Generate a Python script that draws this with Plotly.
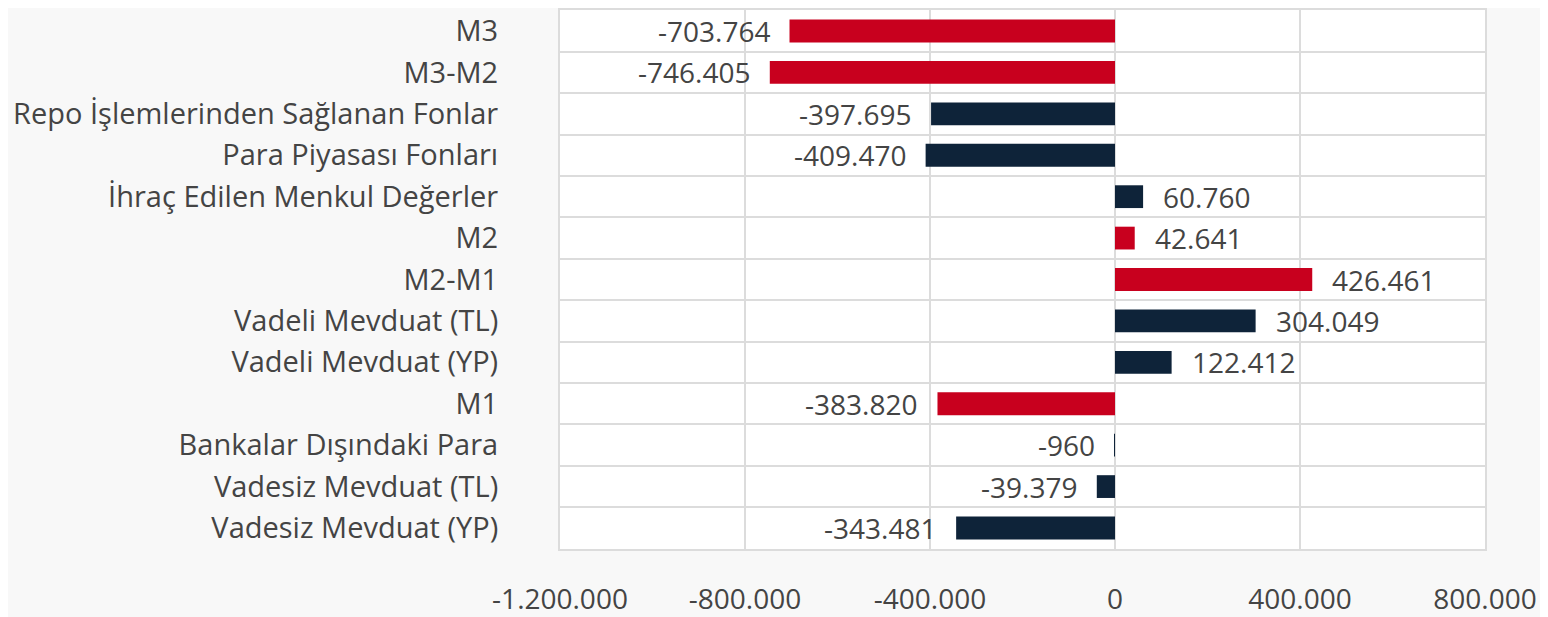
import plotly.graph_objects as go

categories = [
    "M3",
    "M3-M2",
    "Repo İşlemlerinden Sağlanan Fonlar",
    "Para Piyasası Fonları",
    "İhraç Edilen Menkul Değerler",
    "M2",
    "M2-M1",
    "Vadeli Mevduat (TL)",
    "Vadeli Mevduat (YP)",
    "M1",
    "Bankalar Dışındaki Para",
    "Vadesiz Mevduat (TL)",
    "Vadesiz Mevduat (YP)",
]
values = [-703764, -746405, -397695, -409470, 60760, 42641, 426461, 304049, 122412, -383820, -960, -39379, -343481]
is_aggregate = [True, True, False, False, False, True, True, False, False, True, False, False, False]
tick_vals = [-1200000, -800000, -400000, 0, 400000, 800000]

RED = "#c8001e"
NAVY = "#0e2339"
GRID = "#dcdcdc"
FONT_SIZE = 28


def tr_number(v):
    return f"{v:,}".replace(",", ".")


fig = go.Figure()
fig.add_trace(
    go.Bar(
        x=values,
        y=categories,
        orientation="h",
        marker={"color": [RED if a else NAVY for a in is_aggregate], "line": {"width": 0}},
        hoverinfo="skip",
    )
)

for cat, v in zip(categories, values):
    fig.add_annotation(
        x=v,
        y=cat,
        text=tr_number(v),
        showarrow=False,
        xanchor="left" if v >= 0 else "right",
        xshift=18 if v >= 0 else -18,
        font={"size": FONT_SIZE, "color": "#444444"},
    )

# the page body adds an 8px margin, so the figure is 8px smaller each way
fig.update_layout(
    width=1540,
    height=609,
    paper_bgcolor="#f8f8f8",
    plot_bgcolor="#ffffff",
    margin={"l": 552, "r": 63, "t": 0, "b": 67},
    bargap=0.45,
    showlegend=False,
    font={"family": "Open Sans", "size": FONT_SIZE, "color": "#444444"},
)
fig.update_xaxes(
    range=[-1200000, 800000],
    tickvals=tick_vals,
    ticktext=[tr_number(v) for v in tick_vals],
    showgrid=True,
    gridcolor=GRID,
    gridwidth=2,
    zeroline=False,
    showline=True,
    linecolor=GRID,
    linewidth=2,
    mirror=True,
    ticklabelstandoff=24,
)
fig.update_yaxes(
    categoryorder="array",
    categoryarray=categories,
    autorange="reversed",
    tickson="boundaries",
    showgrid=True,
    gridcolor=GRID,
    gridwidth=2,
    showline=True,
    linecolor=GRID,
    linewidth=2,
    mirror=True,
    ticks="",
    tickfont={"size": 29},
    ticklabelstandoff=54,
)

fig.write_html("out.html")
